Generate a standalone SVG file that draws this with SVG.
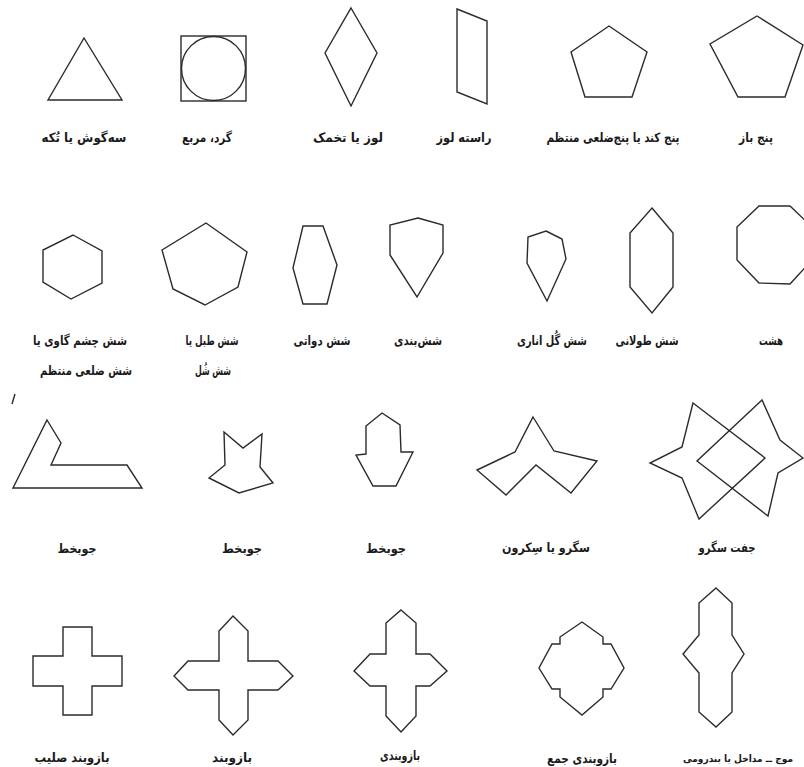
<svg xmlns="http://www.w3.org/2000/svg" width="804" height="767" viewBox="0 0 804 767">
<style>
.s{fill:none;stroke:#2b2b2b;stroke-width:1.4;stroke-linejoin:miter}
.t{font-family:"DejaVu Sans",sans-serif;font-size:13px;font-weight:bold;fill:#1a1a1a;text-anchor:middle}
</style>
<rect width="804" height="767" fill="#ffffff"/>
<g id="connectors"></g>
<g id="n-triangle"><polygon class="s" points="84,38 48,100 122,100"/><text class="t" x="84" y="142" textLength="85" lengthAdjust="spacingAndGlyphs">سه‌گوش یا تُکه</text></g>
<g id="n-square"><rect class="s" x="181" y="36" width="65" height="65"/><circle class="s" cx="213.5" cy="68.5" r="32"/><text class="t" x="207" y="142" textLength="50" lengthAdjust="spacingAndGlyphs">گرد، مربع</text></g>
<g id="n-rhombus"><polygon class="s" points="351,8 377,53 351,106 325,53"/><text class="t" x="348" y="142" textLength="70" lengthAdjust="spacingAndGlyphs">لوز یا تخمک</text></g>
<g id="n-parallelogram"><polygon class="s" points="457,9 487,21 487,104 457,92"/><text class="t" x="464" y="142" textLength="55" lengthAdjust="spacingAndGlyphs">راسته لوز</text></g>
<g id="n-pentagon1"><polygon class="s" points="609,26 647,52 632,97 585,97 571,52"/><text class="t" x="613" y="142" textLength="133" lengthAdjust="spacingAndGlyphs">پنج کند یا پنج‌ضلعی منتظم</text></g>
<g id="n-pentagon2"><polygon class="s" points="757,16 803,45 785,97 738,97 710,44"/><text class="t" x="756" y="142" textLength="34" lengthAdjust="spacingAndGlyphs">پنج باز</text></g>
<g id="n-hex1"><polygon class="s" points="73,235 102,251 102,283 71,299 43,282 43,250"/><text class="t" x="80" y="345" textLength="94" lengthAdjust="spacingAndGlyphs">شش چشم گاوی یا</text><text class="t" x="86" y="375" textLength="92" lengthAdjust="spacingAndGlyphs">شش ضلعی منتظم</text></g>
<g id="n-hex2"><polygon class="s" points="206,223 247,252 238,287 205,305 173,289 162,250"/><text class="t" x="212" y="345" textLength="53" lengthAdjust="spacingAndGlyphs">شش طبل یا</text><text class="t" x="213" y="375" textLength="36" lengthAdjust="spacingAndGlyphs">شش شُل</text></g>
<g id="n-hex3"><polygon class="s" points="303,226 323,226 337,265 327,304 303,304 293,268"/><text class="t" x="322" y="345" textLength="57" lengthAdjust="spacingAndGlyphs">شش دواتی</text></g>
<g id="n-hex4"><polygon class="s" points="418,218 443,225 443,253 417,297 390,255 390,225"/><text class="t" x="418" y="345" textLength="48" lengthAdjust="spacingAndGlyphs">شش‌بندی</text></g>
<g id="n-hex5"><polygon class="s" points="546,231 562,239 566,259 547,301 527,263 528,237"/><text class="t" x="552" y="345" textLength="70" lengthAdjust="spacingAndGlyphs">شش گُل اناری</text></g>
<g id="n-hex6"><polygon class="s" points="652,208 673,233 673,287 652,313 630,287 630,233"/><text class="t" x="647" y="345" textLength="63" lengthAdjust="spacingAndGlyphs">شش طولانی</text></g>
<g id="n-octagon"><polygon class="s" points="759,206 790,206 812,227 812,260 790,284 759,283 737,260 737,227"/><text class="t" x="771" y="345" textLength="24" lengthAdjust="spacingAndGlyphs">هشت</text></g>
<line class="s" x1="15" y1="394" x2="12" y2="404"/>
<g id="n-jobakht1"><polygon class="s" points="47,420 61,443 51,465 127,465 142,488 13,488"/><text class="t" x="77" y="553" textLength="39" lengthAdjust="spacingAndGlyphs">جوبخط</text></g>
<g id="n-jobakht2"><polygon class="s" points="224,432 243,448 262,434 260,467 273,483 239,493 209,478 225,465"/><text class="t" x="242" y="553" textLength="40" lengthAdjust="spacingAndGlyphs">جوبخط</text></g>
<g id="n-jobakht3"><polygon class="s" points="382,413 400,425 401,452 413,452 396,486 373,486 356,455 366,454 366,426"/><text class="t" x="386" y="553" textLength="40" lengthAdjust="spacingAndGlyphs">جوبخط</text></g>
<g id="n-sagru"><polygon class="s" points="533,417 554,451 597,461 571,493 536,465 506,495 477,470 515,452"/><text class="t" x="546" y="552" textLength="88" lengthAdjust="spacingAndGlyphs">سگرو یا سِکرون</text></g>
<g id="n-joft-sagru"><polygon class="s" points="693,403 765,458 699,519 682,478 650,463 682,447"/><polygon class="s" points="762,400 697,461 768,516 778,473 803,458 780,440"/><text class="t" x="727" y="552" textLength="57" lengthAdjust="spacingAndGlyphs">جفت سگرو</text></g>
<g id="n-cross"><polygon class="s" points="63,627 92,627 92,656 122,656 122,686 92,686 92,715 63,715 63,686 33,686 33,656 63,656"/><text class="t" x="72" y="762" textLength="75" lengthAdjust="spacingAndGlyphs">بازوبند صلیب</text></g>
<g id="n-bazuband"><polygon class="s" points="233,616 248,631 248,661 278,661 293,676 278,690 248,690 248,720 233,735 219,720 219,690 188,690 174,676 188,661 219,661 219,631"/><text class="t" x="232" y="762" textLength="40" lengthAdjust="spacingAndGlyphs">بازوبند</text></g>
<g id="n-bazubandi"><polygon class="s" points="401,610 416,623 416,654 430,654 447,671 430,686 416,686 416,716 401,732 386,716 386,686 370,686 354,671 370,654 386,654 386,623"/><text class="t" x="400" y="760" textLength="40" lengthAdjust="spacingAndGlyphs">بازوبندی</text></g>
<g id="n-bazubandi-jam"><polygon class="s" points="582,622 603,637 603,644 611,644 624,668 611,689 603,689 603,697 582,715 560,697 560,689 552,689 539,668 552,644 560,644 560,637"/><text class="t" x="582" y="763" textLength="70" lengthAdjust="spacingAndGlyphs">بازوبندی جمع</text></g>
<g id="n-moj"><polygon class="s" points="716,588 732,603 732,635 744,654 732,673 732,712 716,727 699,712 699,673 683,654 699,635 699,603"/><text class="t" x="738" y="762" style="font-size:10px" textLength="110" lengthAdjust="spacingAndGlyphs">موج ــ مداخل یا بندرومی</text></g>
</svg>
